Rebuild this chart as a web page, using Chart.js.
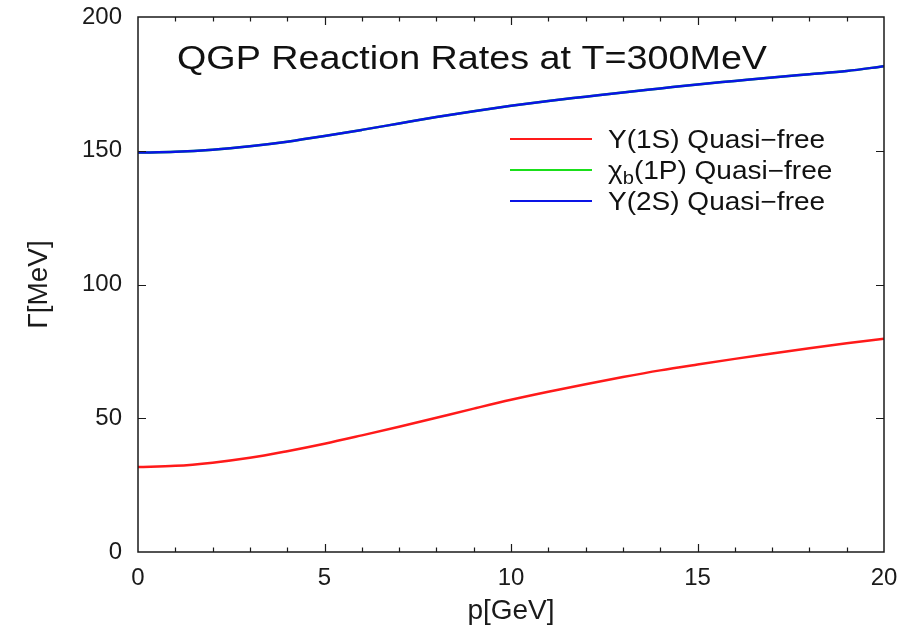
<!DOCTYPE html>
<html>
<head>
<meta charset="utf-8">
<script src="https://cdn.jsdelivr.net/npm/chart.js@4.4.1/dist/chart.umd.min.js"></script>
<style>
  html, body { margin: 0; padding: 0; background: #fff; }
  #wrap { width: 902px; height: 634px; }
</style>
</head>
<body>
<div id="wrap"><canvas id="chart" width="902" height="634"></canvas></div>
<script>
// momentum grid [GeV]
const momentum = [0, 1, 2, 3, 4, 5, 6, 7, 8, 9, 10, 11, 12, 13, 14, 15, 16, 17, 18, 19, 20];
// widths Gamma [MeV]
const ups1S = [31.8, 32.2, 33.4, 35.2, 37.7, 40.5, 43.6, 46.8, 50.2, 53.6, 56.9, 59.9, 62.7, 65.4, 67.9, 70.1, 72.2, 74.2, 76.2, 78.0, 79.7];
const chib1P = [149.3, 149.6, 150.4, 151.7, 153.4, 155.5, 157.8, 160.2, 162.6, 164.8, 166.8, 168.6, 170.2, 171.8, 173.3, 174.8, 176.1, 177.4, 178.6, 179.8, 181.6];
const ups2S = [149.3, 149.6, 150.4, 151.7, 153.4, 155.5, 157.8, 160.2, 162.6, 164.8, 166.8, 168.6, 170.2, 171.8, 173.3, 174.8, 176.1, 177.4, 178.6, 179.8, 181.6];
const xTicks = [0, 5, 10, 15, 20];
const yTicks = [0, 50, 100, 150, 200];
const titleText = 'QGP Reaction Rates at T=300MeV';

const FONT = '"Liberation Sans", Arial, Helvetica, sans-serif';
const INK = '#1a1a1a';

function pts(ys) {
  return momentum.map((p, i) => ({ x: p, y: ys[i] }));
}

// frame, inward ticks, title and legend (gnuplot look)
const decor = {
  id: 'decor',
  afterDatasetsDraw(chart) {
    const { ctx, chartArea: a, scales } = chart;
    const sx = scales.x, sy = scales.y;
    ctx.save();
    ctx.strokeStyle = INK;
    ctx.lineWidth = 1.5;
    ctx.strokeRect(a.left, a.top, a.right - a.left, a.bottom - a.top);
    ctx.lineWidth = 1.2;
    ctx.beginPath();
    for (let v = 1; v < 20; v++) {
      const px = Math.round(sx.getPixelForValue(v)) + 0.5;
      const len = v % 5 === 0 ? 8 : 4.5;
      ctx.moveTo(px, a.bottom); ctx.lineTo(px, a.bottom - len);
      ctx.moveTo(px, a.top); ctx.lineTo(px, a.top + len);
    }
    yTicks.slice(1, -1).forEach(v => {
      const py = Math.round(sy.getPixelForValue(v)) + 0.5;
      ctx.moveTo(a.left, py); ctx.lineTo(a.left + 8, py);
      ctx.moveTo(a.right, py); ctx.lineTo(a.right - 8, py);
    });
    ctx.stroke();

    // title inside the frame
    ctx.fillStyle = '#111';
    ctx.textBaseline = 'alphabetic';
    ctx.font = '34px ' + FONT;
    let w = ctx.measureText(titleText).width;
    ctx.save();
    ctx.translate(177, 69);
    ctx.scale(590 / w, 1);
    ctx.fillText(titleText, 0, 0);
    ctx.restore();

    // legend
    const rows = [
      { color: '#ff1a1a', parts: [['Υ(1S) Quasi−free', 0]] },
      { color: '#1adf1a', parts: [['χ', 0], ['b', 1], ['(1P) Quasi−free', 0]] },
      { color: '#0a14e6', parts: [['Υ(2S) Quasi−free', 0]] }
    ];
    const rowY = [139, 170, 201];
    rows.forEach((r, i) => {
      const y = rowY[i];
      ctx.strokeStyle = r.color;
      ctx.lineWidth = 2;
      ctx.beginPath();
      ctx.moveTo(510, y); ctx.lineTo(592, y);
      ctx.stroke();
      ctx.save();
      ctx.translate(608, y + 9);
      ctx.scale(1.12, 1);
      let x = 0;
      r.parts.forEach(([t, sub]) => {
        ctx.font = (sub ? '18px ' : '25px ') + FONT;
        ctx.fillText(t, x, sub ? 5 : 0);
        x += ctx.measureText(t).width;
      });
      ctx.restore();
    });
    ctx.restore();
  }
};

new Chart(document.getElementById('chart'), {
  type: 'scatter',
  data: {
    datasets: [
      { label: 'Υ(1S) Quasi−free', data: pts(ups1S), borderColor: '#ff1a1a', order: 0 },
      { label: 'χb(1P) Quasi−free', data: pts(chib1P), borderColor: '#1adf1a', order: 2 },
      { label: 'Υ(2S) Quasi−free', data: pts(ups2S), borderColor: '#0a14e6', order: 1 }
    ].map(d => Object.assign(d, {
      showLine: true, pointRadius: 0, borderWidth: 2.5,
      cubicInterpolationMode: 'monotone', fill: false
    }))
  },
  options: {
    responsive: false,
    animation: false,
    layout: { padding: { top: 17, right: 18, left: 22, bottom: 0 } },
    plugins: { legend: { display: false }, tooltip: { enabled: false } },
    scales: {
      x: {
        type: 'linear', min: 0, max: 20,
        afterBuildTicks: s => { s.ticks = xTicks.map(v => ({ value: v })); },
        afterFit: s => { s.height = 82; s.paddingLeft = 0; s.paddingRight = 0; },
        grid: { display: false, drawTicks: false },
        border: { display: false },
        ticks: { color: INK, font: { family: FONT, size: 24 }, padding: 12, maxRotation: 0 },
        title: { display: true, text: 'p[GeV]', color: INK, font: { family: FONT, size: 28 }, padding: { top: 4, bottom: 6 } }
      },
      y: {
        type: 'linear', min: 0, max: 200,
        afterBuildTicks: s => { s.ticks = yTicks.map(v => ({ value: v })); },
        afterFit: s => { s.width = 116; s.paddingTop = 0; s.paddingBottom = 0; },
        grid: { display: false, drawTicks: false },
        border: { display: false },
        ticks: { color: INK, font: { family: FONT, size: 24 }, padding: 16 },
        title: { display: true, text: 'Γ[MeV]', color: INK, font: { family: FONT, size: 28 }, padding: { top: 0, bottom: 0 } }
      }
    }
  },
  plugins: [decor]
});
</script>
</body>
</html>
